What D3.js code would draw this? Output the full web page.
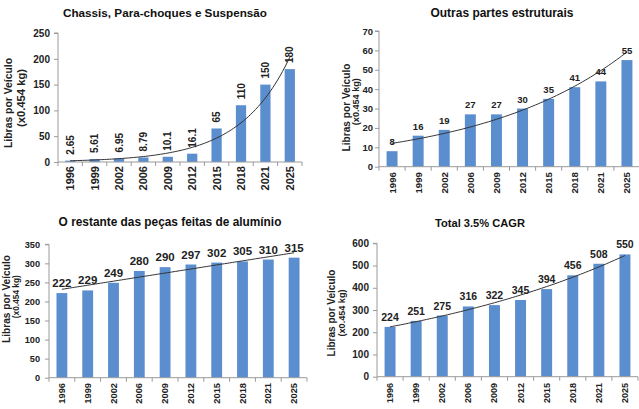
<!DOCTYPE html>
<html><head><meta charset="utf-8">
<script src="https://cdn.jsdelivr.net/npm/d3@7"></script>
<style>
html,body{margin:0;padding:0;background:#fff;}
svg{display:block;font-family:"Liberation Sans",Arial,sans-serif;font-weight:bold;}
</style></head>
<body>
<svg id="c" width="639" height="409"></svg>
<script>
// ---- data ----
const years = ["1996","1999","2002","2006","2009","2012","2015","2018","2021","2025"];
const chassis = [2.65, 5.61, 6.95, 8.79, 10.1, 16.1, 65, 110, 150, 180];
const chassisLabels = ["2.65","5.61","6.95","8.79","10.1","16.1","65","110","150","180"];
const outras = [8, 16, 19, 27, 27, 30, 35, 41, 44, 55];
const restante = [222, 229, 249, 280, 290, 297, 302, 305, 310, 315];
const total = [224, 251, 275, 316, 322, 345, 394, 456, 508, 550];
const ticksChassis = [0, 50, 100, 150, 200, 250];
const ticksOutras = [0, 10, 20, 30, 40, 50, 60, 70];
const ticksRestante = [0, 50, 100, 150, 200, 250, 300, 350];
const ticksTotal = [0, 100, 200, 300, 400, 500, 600];
const titles = ["Chassis, Para-choques e Suspensão", "Outras partes estruturais",
                "O restante das peças feitas de alumínio", "Total 3.5% CAGR"];
const yTitle1 = "Libras por Veículo";
const yTitle2 = "(x0.454 kg)";

const BAR = "#5b8ecf";
const svg = d3.select("#c");

function fit(sel, width){
  const w = sel.node().getComputedTextLength();
  const fs = parseFloat(sel.attr("font-size"));
  sel.attr("font-size", (fs*width/w).toFixed(2));
}

// least-squares trend on index 1..n
function trendFn(vals, type){
  const n = vals.length, xs = d3.range(1, n+1);
  const ys = type === "exp" ? vals.map(Math.log) : vals;
  const mx = d3.mean(xs), my = d3.mean(ys);
  const b = d3.sum(xs, (x,i)=>(x-mx)*(ys[i]-my)) / d3.sum(xs, x=>(x-mx)*(x-mx));
  const a = my - b*mx;
  return type === "exp" ? (x => Math.exp(a + b*x)) : (x => a + b*x);
}

function panel(o){
  const g = svg.append("g");
  const x = d3.scaleBand().domain(years).range([o.left, o.right]).paddingInner(0.58).paddingOuter(0.29);
  const y = d3.scaleLinear().domain([0, o.max]).range([o.bottom, o.top]);
  const step = x.step();

  // title
  const t = g.append("text").attr("x", o.tx).attr("y", o.ty).attr("text-anchor","middle")
    .attr("dominant-baseline","central").attr("font-size", 12).attr("fill","#111").text(o.title);
  fit(t, o.tw);

  // y axis title
  const a1 = g.append("text").attr("transform",`translate(${o.yt1x},${o.yt1y}) rotate(-90)`)
    .attr("text-anchor","middle").attr("dominant-baseline","central").attr("font-size",11)
    .attr("fill","#222").text(yTitle1);
  fit(a1, o.yt1w);
  const a2 = g.append("text").attr("transform",`translate(${o.yt2x},${o.yt2y}) rotate(-90)`)
    .attr("text-anchor","middle").attr("dominant-baseline","central").attr("font-size",9)
    .attr("fill","#222").text(yTitle2);
  fit(a2, o.yt2w);

  // y axis
  const ya = g.append("g").attr("transform",`translate(${o.left},0)`)
    .call(d3.axisLeft(y).tickValues(o.ticks).tickSize(4).tickPadding(o.tickPad).tickFormat(d3.format("d")));
  ya.selectAll("path,line").attr("stroke","#9a9a9a");
  ya.select(".domain").attr("d", `M-4,${y(o.max)}H0V${o.bottom}`);
  ya.selectAll("text").attr("font-size", o.yfs).attr("font-family","Liberation Sans, Arial, sans-serif")
    .attr("font-weight","bold").attr("fill","#222");

  // bars
  g.selectAll("rect.bar").data(o.values).join("rect").attr("class","bar")
    .attr("x",(d,i)=>x(years[i])).attr("width",x.bandwidth())
    .attr("y",d=>y(d)).attr("height",d=>o.bottom-y(d)).attr("fill",BAR);

  // x axis
  g.append("line").attr("x1",o.left).attr("x2",o.right).attr("y1",o.bottom).attr("y2",o.bottom)
    .attr("stroke","#9a9a9a");
  g.selectAll("line.xt").data(d3.range(years.length+1)).join("line").attr("class","xt")
    .attr("x1",i=>o.left+i*step).attr("x2",i=>o.left+i*step)
    .attr("y1",o.bottom).attr("y2",o.bottom+4).attr("stroke","#9a9a9a");
  g.selectAll("text.xl").data(years).join("text").attr("class","xl")
    .attr("transform",d=>`translate(${x(d)+x.bandwidth()/2},${o.xlTop}) rotate(-90)`)
    .attr("text-anchor","end").attr("dominant-baseline","central")
    .attr("font-size",o.xfs).attr("fill","#222").text(d=>d);

  // trend line
  const f = trendFn(o.values, o.trend);
  const c0 = x(years[0]) + x.bandwidth()/2;
  const pts = d3.range(0, 9.001, 0.1).map(k => [c0 + k*step, y(f(k+1))]);
  g.append("path").attr("d", d3.line()(pts)).attr("fill","none")
    .attr("stroke","#333").attr("stroke-width",1);

  // value labels
  const labs = o.labels || o.values.map(String);
  if (o.rotLabels){
    g.selectAll("text.vl").data(o.values).join("text").attr("class","vl")
      .attr("transform",(d,i)=>`translate(${x(years[i])+x.bandwidth()/2},${y(d)-6}) rotate(-90)`)
      .attr("text-anchor","start").attr("dominant-baseline","central")
      .attr("font-size",o.vfs).attr("fill","#222").text((d,i)=>labs[i]);
  } else {
    g.selectAll("text.vl").data(o.values).join("text").attr("class","vl")
      .attr("x",(d,i)=>x(years[i])+x.bandwidth()/2).attr("y",d=>y(d)-6)
      .attr("text-anchor","middle").attr("font-size",o.vfs).attr("fill","#222").text((d,i)=>labs[i]);
  }
}

panel({values: chassis, labels: chassisLabels, ticks: ticksChassis, max: 250, title: titles[0],
  left: 58, right: 302, top: 33, bottom: 162, tx: 165, ty: 12.7, tw: 204,
  yt1x: 8.3, yt1y: 103, yt1w: 90, yt2x: 21, yt2y: 98, yt2w: 58,
  yfs: 10, tickPad: 4, xfs: 11, xlTop: 166, vfs: 10, rotLabels: true, trend: "exp"});

panel({values: outras, ticks: ticksOutras, max: 70, title: titles[1],
  left: 379, right: 640, top: 31, bottom: 166.7, tx: 502, ty: 13, tw: 143,
  yt1x: 346.7, yt1y: 107.5, yt1w: 88, yt2x: 356, yt2y: 101.7, yt2w: 47,
  yfs: 9.5, tickPad: 2, xfs: 9.7, xlTop: 172, vfs: 9.5, rotLabels: false, trend: "exp"});

panel({values: restante, ticks: ticksRestante, max: 350, title: titles[2],
  left: 49, right: 307, top: 244.3, bottom: 377.7, tx: 170, ty: 221.7, tw: 223,
  yt1x: 6.7, yt1y: 299, yt1w: 88, yt2x: 16, yt2y: 296.7, yt2w: 43,
  yfs: 9.2, tickPad: 5, xfs: 9.3, xlTop: 383, vfs: 11.5, rotLabels: false, trend: "lin"});

panel({values: total, ticks: ticksTotal, max: 600, title: titles[3],
  left: 377, right: 638, top: 243.3, bottom: 376.7, tx: 480, ty: 223, tw: 90,
  yt1x: 331, yt1y: 313, yt1w: 87, yt2x: 341.5, yt2y: 313, yt2w: 47,
  yfs: 10, tickPad: 4, xfs: 9, xlTop: 383, vfs: 10.5, rotLabels: false, trend: "exp"});
</script>
</body></html>
